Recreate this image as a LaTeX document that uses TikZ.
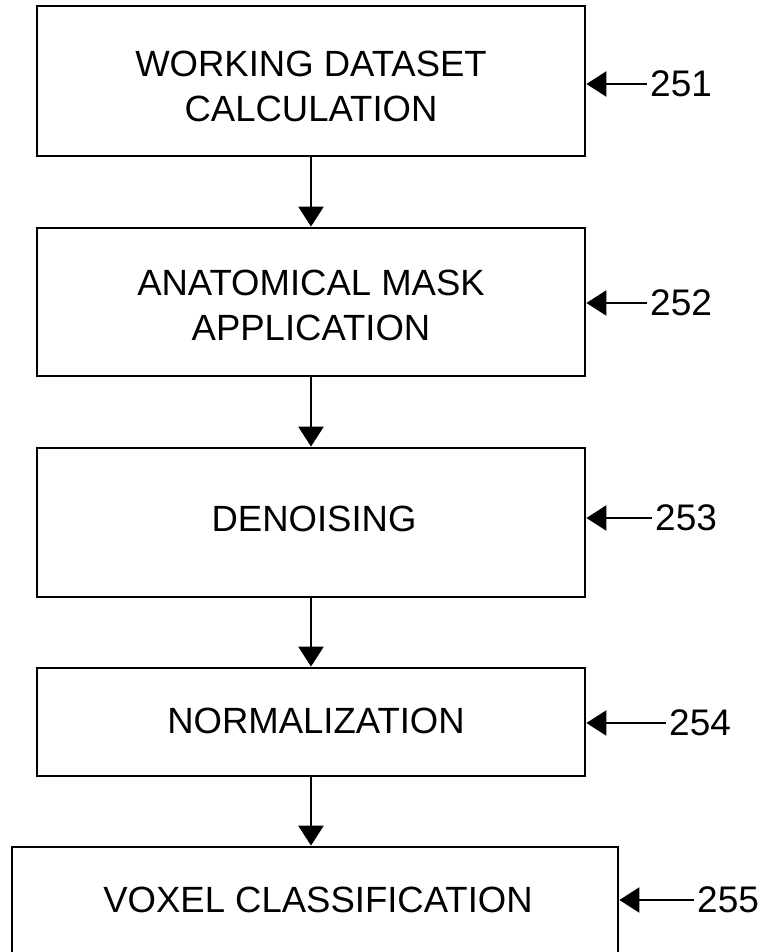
\documentclass[tikz,border=0pt]{standalone}
\usepackage{fontspec}
\setmainfont{Liberation Sans}
\usetikzlibrary{arrows.meta}
\begin{document}
\begin{tikzpicture}[x=1pt,y=-1pt,
  box/.style={draw,line width=2.8pt,rectangle,inner sep=0pt},
  txt/.style={inner sep=0pt,align=center,font=\fontsize{36.5}{45}\selectfont},
  num/.style={inner sep=0pt,anchor=west,font=\fontsize{37}{43}\selectfont},
  flow/.style={line width=2.6pt,-{Triangle[width=25pt,length=20pt]}},
  ref/.style={line width=2.4pt,-{Triangle[width=25pt,length=20pt]}}]
\clip (0,0) rectangle (762,952);
\useasboundingbox (0,0) rectangle (762,952);
\node[box,minimum width=548pt,minimum height=150pt] (b1) at (311,81) {};
\node[box,minimum width=548pt,minimum height=148pt] (b2) at (311,302) {};
\node[box,minimum width=548pt,minimum height=149pt] (b3) at (311,522.5) {};
\node[box,minimum width=548pt,minimum height=108pt] (b4) at (311,722) {};
\node[box,minimum width=606pt,minimum height=180pt] (b5) at (315,937) {};
\node[txt] (t1) at (311,86.5) {WORKING DATASET\\CALCULATION};
\node[txt] (t2) at (311,305.5) {ANATOMICAL MASK\\APPLICATION};
\node[txt] (t3) at (314,519) {DENOISING};
\node[txt] (t4) at (316,721) {NORMALIZATION};
\node[txt] (t5) at (318,900) {VOXEL CLASSIFICATION};
\draw[flow] (b1.south) -- (b2.north);
\draw[flow] (b2.south) -- (b3.north);
\draw[flow] (b3.south) -- (b4.north);
\draw[flow] (b4.south) -- (b4.south |- b5.north);
\node[num] (n1) at (650,84) {251};
\node[num] (n2) at (650,303) {252};
\node[num] (n3) at (655,518) {253};
\node[num] (n4) at (669,723) {254};
\node[num] (n5) at (697,900) {255};
\draw[ref] ([xshift=-3pt]n1.west) -- (n1.west -| b1.east);
\draw[ref] ([xshift=-3pt]n2.west) -- (n2.west -| b2.east);
\draw[ref] ([xshift=-3pt]n3.west) -- (n3.west -| b3.east);
\draw[ref] ([xshift=-3pt]n4.west) -- (n4.west -| b4.east);
\draw[ref] ([xshift=-3pt]n5.west) -- (n5.west -| b5.east);
\end{tikzpicture}
\end{document}
